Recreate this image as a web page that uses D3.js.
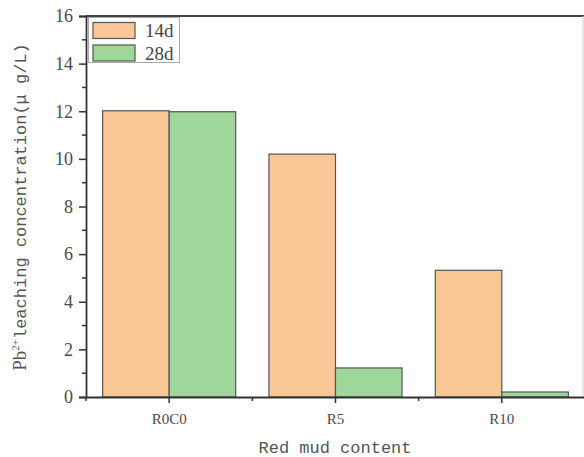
<!DOCTYPE html>
<html>
<head>
<meta charset="utf-8">
<script src="https://cdn.jsdelivr.net/npm/d3@7"></script>
<style>
  html, body { margin: 0; padding: 0; background: #fff; }
  svg { display: block; }
</style>
</head>
<body>
<svg width="584" height="457"></svg>
<script>
// Chart data
var categories = ['R0C0', 'R5', 'R10'];
var seriesNames = ['14d', '28d'];
var values14d = [12.02, 10.2, 5.32];
var values28d = [11.98, 1.22, 0.21];
var yTicks = [0, 2, 4, 6, 8, 10, 12, 14, 16];

var colors = ['#fcc796', '#9fd69a'];

(function () {
    "use strict";

    var svg = d3.select('svg');
    var plot = { left: 86, right: 583, top: 16, bottom: 397 };

    // Scales
    var x = d3.scaleBand()
        .domain(categories)
        .range([plot.left, plot.right + 2])
        .paddingInner(0.2)
        .paddingOuter(0.1);

    var xSub = d3.scaleBand()
        .domain(seriesNames)
        .range([0, x.bandwidth()]);

    var y = d3.scaleLinear()
        .domain([0, 16])
        .range([plot.bottom, plot.top]);

    var rows = categories.map(function (c, i) {
        return { cat: c, vals: [values14d[i], values28d[i]] };
    });

    // Bars
    var groups = svg.append('g').selectAll('g')
        .data(rows)
        .enter()
        .append('g')
        .attr('transform', function (d) { return 'translate(' + x(d.cat) + ',0)'; });

    groups.selectAll('rect')
        .data(function (d) {
            return d.vals.map(function (v, i) { return { name: seriesNames[i], value: v, idx: i }; });
        })
        .enter()
        .append('rect')
        .attr('x', function (d) { return xSub(d.name); })
        .attr('width', xSub.bandwidth())
        .attr('y', function (d) { return y(d.value); })
        .attr('height', function (d) { return y(0) - y(d.value); })
        .attr('fill', function (d) { return colors[d.idx]; })
        .attr('stroke', '#555')
        .attr('stroke-width', 1.2);

    // Frame top and right
    svg.append('line')
        .attr('x1', plot.left).attr('x2', 584)
        .attr('y1', plot.top).attr('y2', plot.top)
        .attr('stroke', '#444').attr('stroke-width', 2);
    svg.append('line')
        .attr('x1', plot.right).attr('x2', plot.right)
        .attr('y1', plot.top).attr('y2', plot.bottom)
        .attr('stroke', '#ccc').attr('stroke-width', 1);

    // Y axis
    var yAxis = svg.append('g')
        .attr('transform', 'translate(' + plot.left + ',0)')
        .call(d3.axisLeft(y).tickValues(yTicks).tickSize(7).tickPadding(6));

    // Y minor ticks
    svg.append('g').selectAll('line')
        .data(d3.range(1, 16, 2))
        .enter()
        .append('line')
        .attr('x1', plot.left - 4).attr('x2', plot.left)
        .attr('y1', function (d) { return y(d); })
        .attr('y2', function (d) { return y(d); })
        .attr('stroke', '#333').attr('stroke-width', 1.5);

    // X axis
    var xAxis = svg.append('g')
        .attr('transform', 'translate(0,' + plot.bottom + ')')
        .call(d3.axisBottom(x).tickSize(6).tickPadding(10).tickSizeOuter(0));

    // X minor ticks at group boundaries
    var bounds = [plot.left];
    for (var i = 1; i < categories.length; i++) {
        bounds.push(x(categories[i]) - x.step() * x.paddingInner() / 2);
    }
    svg.append('g').selectAll('line')
        .data(bounds)
        .enter()
        .append('line')
        .attr('x1', function (d) { return d; })
        .attr('x2', function (d) { return d; })
        .attr('y1', plot.bottom).attr('y2', plot.bottom + 4)
        .attr('stroke', '#333').attr('stroke-width', 1.5);

    [yAxis, xAxis].forEach(function (ax) {
        ax.select('.domain').attr('stroke', '#333').attr('stroke-width', 1.8);
        ax.selectAll('.tick line').attr('stroke', '#333').attr('stroke-width', 1.5);
        ax.selectAll('.tick text')
            .attr('fill', '#4a4a4a')
            .style('font-family', '"Liberation Serif", serif');
    });
    yAxis.selectAll('.tick text').style('font-size', '18px');
    xAxis.selectAll('.tick text').style('font-size', '15px');

    // Axis titles
    svg.append('text')
        .attr('x', 335)
        .attr('y', 453)
        .attr('text-anchor', 'middle')
        .attr('fill', '#555')
        .style('font-family', '"Liberation Mono", monospace')
        .style('font-size', '17px')
        .text('Red mud content');

    var yTitle = svg.append('text')
        .attr('transform', 'translate(26,207) rotate(-90)')
        .attr('text-anchor', 'middle')
        .attr('fill', '#555')
        .style('font-size', '17px');
    yTitle.append('tspan')
        .style('font-family', '"Liberation Serif", serif')
        .style('font-size', '19px')
        .text('Pb');
    yTitle.append('tspan')
        .style('font-family', '"Liberation Serif", serif')
        .style('font-size', '11px')
        .attr('dy', -7)
        .text('2+');
    yTitle.append('tspan')
        .style('font-family', '"Liberation Mono", monospace')
        .attr('dy', 7)
        .text('leaching concentration(\u03bc g/L)');

    // Legend
    var legend = svg.append('g');
    legend.append('rect')
        .attr('x', 88.5).attr('y', 17.5)
        .attr('width', 91).attr('height', 45)
        .attr('fill', '#fff')
        .attr('stroke', '#aaa').attr('stroke-width', 1);

    seriesNames.forEach(function (name, i) {
        legend.append('rect')
            .attr('x', 93).attr('y', 22.5 + i * 22.5)
            .attr('width', 42).attr('height', 16)
            .attr('fill', colors[i])
            .attr('stroke', '#555').attr('stroke-width', 1.2);
        legend.append('text')
            .attr('x', 145).attr('y', 37 + i * 22.5)
            .attr('fill', '#444')
            .style('font-family', '"Liberation Serif", serif')
            .style('font-size', '19px')
            .text(name);
    });
})();
</script>
</body>
</html>
